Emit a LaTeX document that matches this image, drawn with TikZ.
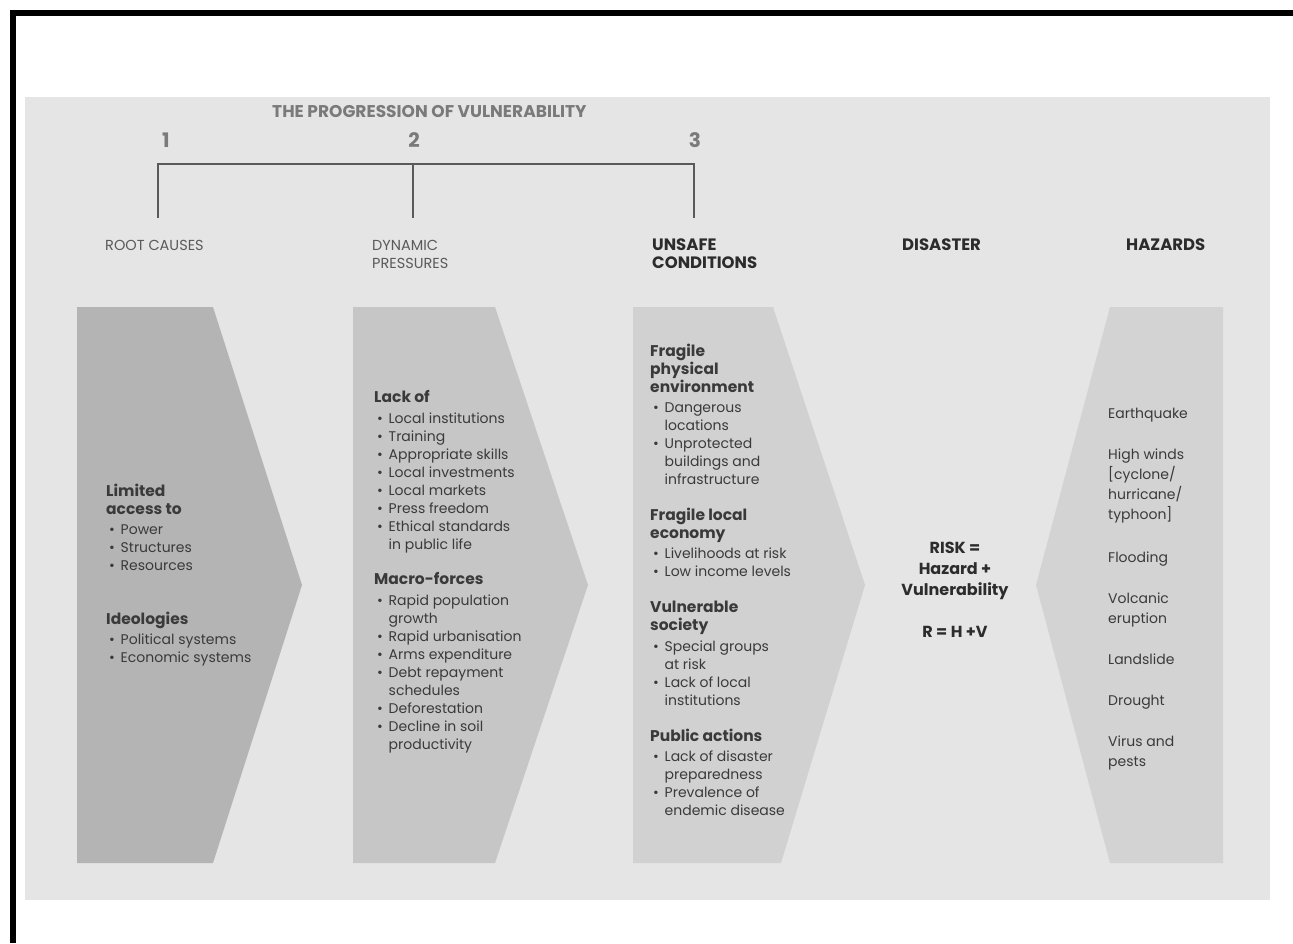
\documentclass[tikz,border=0pt]{standalone}
\usepackage{fontspec}
\setmainfont{Poppins}
\definecolor{bg}{HTML}{E5E5E5}
\definecolor{sA}{HTML}{B4B4B4}
\definecolor{sB}{HTML}{C6C6C6}
\definecolor{sC}{HTML}{D1D1D1}
\definecolor{sD}{HTML}{D3D3D3}
\definecolor{txt}{HTML}{3A3A3A}
\definecolor{hd}{HTML}{2C2C2C}
\definecolor{lt}{HTML}{5A5A5A}
\definecolor{ttl}{HTML}{7A7A7A}
\newcommand{\bl}[1]{\makebox[14.5pt][l]{\hspace{3pt}\textbullet}#1}
\newcommand{\ct}[1]{\hspace*{14.5pt}#1}
\newcommand{\hb}[1]{{\fontsize{15.5}{18}\selectfont\bfseries #1}}
\begin{document}
\begin{tikzpicture}[x=1pt,y=-1pt,
  body/.style={anchor=north west,inner sep=0pt,align=left,text=txt,font=\fontsize{14}{18}\selectfont},
  haz/.style={anchor=north west,inner sep=0pt,align=left,text=txt,font=\fontsize{14}{20}\selectfont},
  lighthead/.style={anchor=north west,inner sep=0pt,align=left,text=lt,font=\fontsize{14.5}{18}\selectfont},
  boldhead/.style={anchor=north west,inner sep=0pt,align=left,text=hd,font=\fontsize{16.5}{18}\selectfont\bfseries},
  num/.style={inner sep=0pt,text=ttl,font=\fontsize{20}{22}\selectfont\bfseries},
  bracket/.style={draw=lt,line width=1.3pt},
  frame/.style={line width=6pt,black}]
\useasboundingbox (0,0) rectangle (1293,943);
% frame and background
\fill[bg] (25,97) rectangle (1270,900);
\draw[frame] (13,943) -- (13,13) -- (1293,13);
% arrow shapes
\fill[sA] (77,307) -- (213,307) -- (302,585) -- (213,863) -- (77,863) -- cycle;
\fill[sB] (353,307) -- (495,307) -- (588,585) -- (495,863) -- (353,863) -- cycle;
\fill[sC] (633,307) -- (773,307) -- (865,585) -- (781,863) -- (633,863) -- cycle;
\fill[sD] (1223,307) -- (1110,307) -- (1036,585) -- (1110,863) -- (1223,863) -- cycle;
% title and numbers
\node[anchor=west,inner sep=0pt,text=ttl,font=\fontsize{17}{20}\selectfont\bfseries] (title) at (272,112) {THE PROGRESSION OF VULNERABILITY};
\node[num] (n1) at (166,140) {1};
\node[num] (n2) at (414,140) {2};
\node[num] (n3) at (695,140) {3};
\coordinate (k1) at (158,164);
\coordinate (k2) at (413,164);
\coordinate (k3) at (694,164);
\coordinate (k1b) at (158,218);
\coordinate (k2b) at (413,218);
\coordinate (k3b) at (694,218);
\draw[bracket] (k1b) -- (k1) -- (k3) -- (k3b);
\draw[bracket] (k2) -- (k2b);
% column headings
\node[lighthead] (h1) at (105,240) {ROOT CAUSES};
\node[lighthead] (h2) at (372,240) {DYNAMIC\\PRESSURES};
\node[boldhead] (h3) at (652,239) {UNSAFE\\CONDITIONS};
\node[boldhead] (h4) at (902,239) {DISASTER};
\node[boldhead] (h5) at (1126,239) {HAZARDS};
% column 1
\node[body] (c1) at (106,484) {\hb{Limited}\\\hb{access to}\\[2pt]
\bl{Power}\\\bl{Structures}\\\bl{Resources}\\[36pt]
\hb{Ideologies}\\[2pt]
\bl{Political systems}\\\bl{Economic systems}};
% column 2
\node[body] (c2) at (374,390) {\hb{Lack of}\\[3pt]
\bl{Local institutions}\\\bl{Training}\\\bl{Appropriate skills}\\\bl{Local investments}\\
\bl{Local markets}\\\bl{Press freedom}\\\bl{Ethical standards}\\\ct{in public life}\\[17pt]
\hb{Macro-forces}\\[3pt]
\bl{Rapid population}\\\ct{growth}\\\bl{Rapid urbanisation}\\\bl{Arms expenditure}\\
\bl{Debt repayment}\\\ct{schedules}\\\bl{Deforestation}\\\bl{Decline in soil}\\\ct{productivity}};
% column 3
\node[body] (c3) at (650,344) {\hb{Fragile}\\\hb{physical}\\\hb{environment}\\[2pt]
\bl{Dangerous}\\\ct{locations}\\\bl{Unprotected}\\\ct{buildings and}\\\ct{infrastructure}\\[18pt]
\hb{Fragile local}\\\hb{economy}\\[2pt]
\bl{Livelihoods at risk}\\\bl{Low income levels}\\[18pt]
\hb{Vulnerable}\\\hb{society}\\[3pt]
\bl{Special groups}\\\ct{at risk}\\\bl{Lack of local}\\\ct{institutions}\\[18pt]
\hb{Public actions}\\[2pt]
\bl{Lack of disaster}\\\ct{preparedness}\\\bl{Prevalence of}\\\ct{endemic disease}};
% disaster
\node[anchor=north,inner sep=0pt,align=center,text=hd,font=\fontsize{16}{21}\selectfont\bfseries] (risk) at (955,542) {RISK =\\Hazard +\\Vulnerability\\[21pt]R = H +V};
% hazards
\node[haz] (hz) at (1108,408) {Earthquake\\[21pt]
High winds\\{[}cyclone/\\hurricane/\\typhoon{]}\\[23pt]
Flooding\\[21pt]
Volcanic\\eruption\\[21pt]
Landslide\\[21pt]
Drought\\[21pt]
Virus and\\pests};
\end{tikzpicture}
\end{document}
